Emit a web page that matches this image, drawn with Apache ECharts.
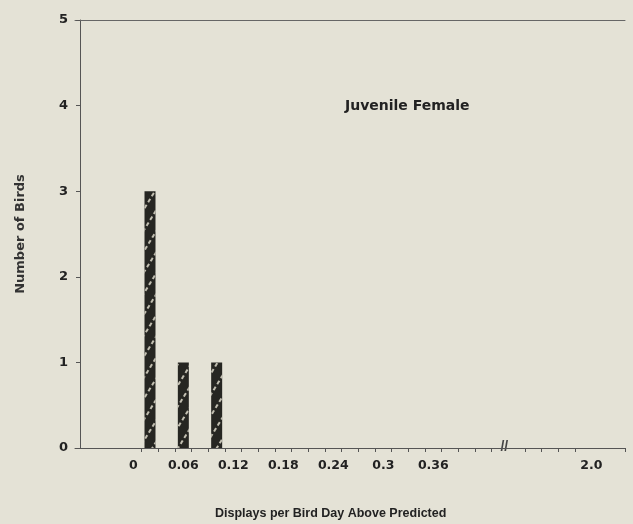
<!DOCTYPE html>
<html>
<head>
<meta charset="utf-8">
<script src="https://cdn.jsdelivr.net/npm/echarts@6/dist/echarts.min.js"></script>
<style>html,body{margin:0;padding:0;background:#e4e2d6;}#c{width:633px;height:524px;}</style>
</head>
<body>
<div id="c"></div>
<script>
// x slots (each slot = 0.02 displays per bird day)
const slots = ['-0.06','-0.04','-0.02','0','0.02','0.04','0.06','0.08','0.10','0.12','0.14','0.16','0.18','0.20','0.22','0.24','0.26','0.28','0.3','0.32','0.34','0.36','0.38','0.40','0.42','0.44','0.46','1.94','1.96','1.98','2.0','2.02','2.04'];
const tickLabels = ['0','0.06','0.12','0.18','0.24','0.3','0.36','2.0'];
const barCategories = ['0.02','0.06','0.10'];
const birdCounts = [3, 1, 1];
const yTicks = [0, 1, 2, 3, 4, 5];

const seriesData = slots.map(s => {
  const i = barCategories.indexOf(s);
  return i >= 0 ? birdCounts[i] : null;
});

const chart = echarts.init(document.getElementById('c'));
const font = '"Liberation Sans", Arial, sans-serif';
const dfont = '"DejaVu Sans", sans-serif';
const firstTick = slots.indexOf('0.02'), lastTick = slots.indexOf('2.0'), gapTick = slots.indexOf('0.46');

chart.setOption({
  backgroundColor: '#e4e2d6',
  animation: false,
  title: [
    {text: 'Juvenile Female', left: 340, top: 94, textStyle: {fontFamily: dfont, fontSize: 14, fontWeight: 'bold', color: '#222'}},
    {text: 'Displays per Bird Day Above Predicted', left: 210, top: 502, textStyle: {fontFamily: font, fontSize: 12.5, fontWeight: 'bold', color: '#222'}}
  ],
  grid: {left: 75, right: 8, top: 20, bottom: 76},
  xAxis: [{
    type: 'category',
    data: slots,
    boundaryGap: true,
    axisLine: {lineStyle: {color: '#555', width: 1}},
    axisTick: {
      show: true, length: 4, inside: false, lineStyle: {color: '#555'},
      interval: (i) => i >= firstTick && i <= lastTick && i !== gapTick
    },
    axisLabel: {
      show: true, interval: 0, margin: 11, fontFamily: dfont, fontSize: 12.5, fontWeight: 'bold', color: '#222',
      formatter: v => tickLabels.indexOf(v) < 0 ? '' : (v === '2.0' ? '{s|' + v + '}' : v),
      rich: {s: {fontFamily: dfont, fontSize: 12.5, fontWeight: 'bold', color: '#222', padding: [0, 0, 0, 16]}}
    },
    splitLine: {show: false}
  }, {
    type: 'category', position: 'top', data: slots,
    axisLine: {show: true, lineStyle: {color: '#666', width: 1}},
    axisTick: {show: false}, axisLabel: {show: false}
  }],
  yAxis: {
    type: 'value', min: 0, max: 5, interval: 1, offset: -5,
    name: 'Number of Birds', nameLocation: 'middle', nameGap: 53, nameRotate: 90,
    nameTextStyle: {fontFamily: dfont, fontSize: 13, fontWeight: 'bold', color: '#333'},
    axisLine: {show: true, lineStyle: {color: '#555'}},
    axisTick: {show: true, length: 4, lineStyle: {color: '#555'}},
    axisLabel: {margin: 12, fontFamily: dfont, fontSize: 13, fontWeight: 'bold', color: '#222',
      formatter: v => yTicks.indexOf(v) >= 0 ? String(v) : ''},
    splitLine: {show: false}
  },
  series: [{
    type: 'bar',
    data: seriesData,
    barWidth: 11,
    itemStyle: {
      color: '#262622',
      decal: {symbol: 'rect', color: 'rgba(232,229,212,0.8)', dashArrayX: [[2, 9]], dashArrayY: [4, 3], rotation: 0.55, symbolSize: 1}
    }
  }]
});

// axis break mark
const bx = (chart.convertToPixel({xAxisIndex: 0}, '0.44') + chart.convertToPixel({xAxisIndex: 0}, '0.46')) / 2;
const by = chart.convertToPixel({yAxisIndex: 0}, 0);
chart.setOption({
  graphic: [{
    type: 'text', x: bx - 4, y: by - 1, style: {text: '//', fontFamily: font, fontSize: 14, fontWeight: 'bold', fill: '#444', align: 'center', verticalAlign: 'middle'}
  }]
});
</script>
</body>
</html>
